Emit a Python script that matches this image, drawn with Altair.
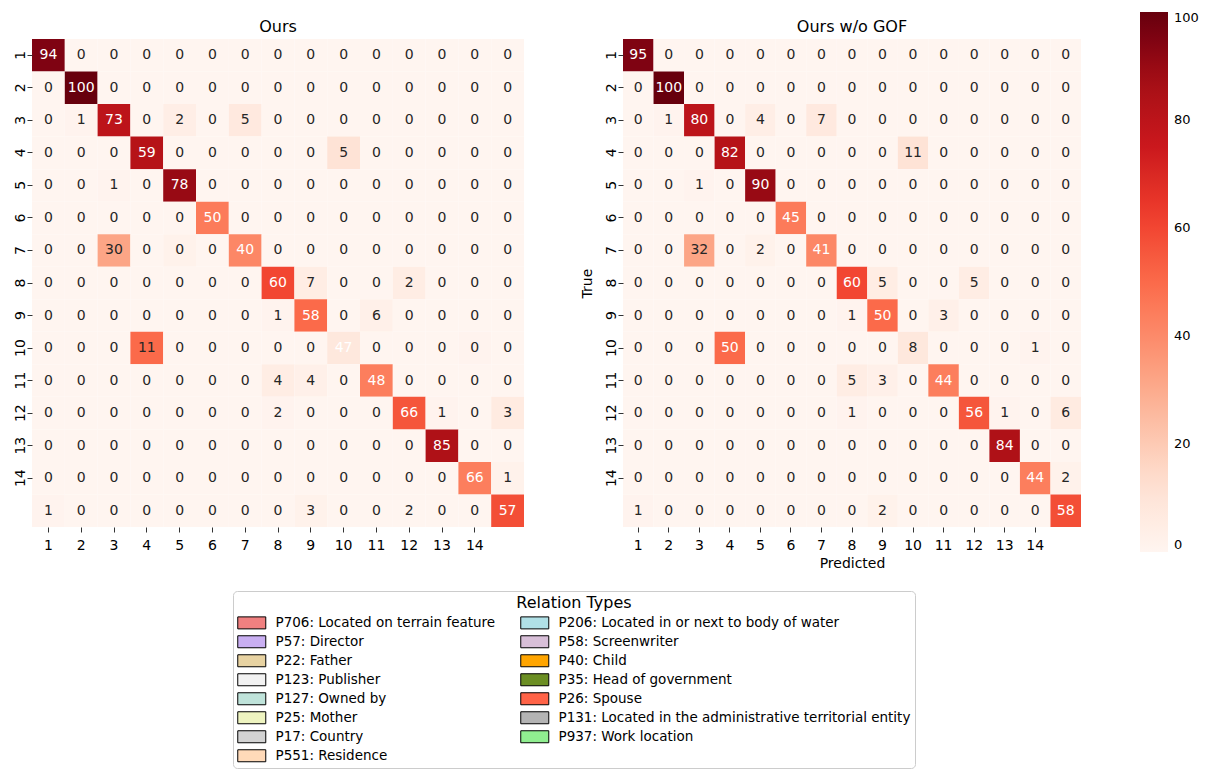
import altair as alt
import pandas as pd

FONT = "DejaVu Sans"

classes = list(range(1, 16))
tick_values = list(range(1, 15))

# Annotated numbers, left panel ("Ours")
ours_annot = [
    [94, 0, 0, 0, 0, 0, 0, 0, 0, 0, 0, 0, 0, 0, 0],
    [0, 100, 0, 0, 0, 0, 0, 0, 0, 0, 0, 0, 0, 0, 0],
    [0, 1, 73, 0, 2, 0, 5, 0, 0, 0, 0, 0, 0, 0, 0],
    [0, 0, 0, 59, 0, 0, 0, 0, 0, 5, 0, 0, 0, 0, 0],
    [0, 0, 1, 0, 78, 0, 0, 0, 0, 0, 0, 0, 0, 0, 0],
    [0, 0, 0, 0, 0, 50, 0, 0, 0, 0, 0, 0, 0, 0, 0],
    [0, 0, 30, 0, 0, 0, 40, 0, 0, 0, 0, 0, 0, 0, 0],
    [0, 0, 0, 0, 0, 0, 0, 60, 7, 0, 0, 2, 0, 0, 0],
    [0, 0, 0, 0, 0, 0, 0, 1, 58, 0, 6, 0, 0, 0, 0],
    [0, 0, 0, 11, 0, 0, 0, 0, 0, 47, 0, 0, 0, 0, 0],
    [0, 0, 0, 0, 0, 0, 0, 4, 4, 0, 48, 0, 0, 0, 0],
    [0, 0, 0, 0, 0, 0, 0, 2, 0, 0, 0, 66, 1, 0, 3],
    [0, 0, 0, 0, 0, 0, 0, 0, 0, 0, 0, 0, 85, 0, 0],
    [0, 0, 0, 0, 0, 0, 0, 0, 0, 0, 0, 0, 0, 66, 1],
    [1, 0, 0, 0, 0, 0, 0, 0, 3, 0, 0, 2, 0, 0, 57],
]

# Annotated numbers, right panel ("Ours w/o GOF")
wo_gof_annot = [
    [95, 0, 0, 0, 0, 0, 0, 0, 0, 0, 0, 0, 0, 0, 0],
    [0, 100, 0, 0, 0, 0, 0, 0, 0, 0, 0, 0, 0, 0, 0],
    [0, 1, 80, 0, 4, 0, 7, 0, 0, 0, 0, 0, 0, 0, 0],
    [0, 0, 0, 82, 0, 0, 0, 0, 0, 11, 0, 0, 0, 0, 0],
    [0, 0, 1, 0, 90, 0, 0, 0, 0, 0, 0, 0, 0, 0, 0],
    [0, 0, 0, 0, 0, 45, 0, 0, 0, 0, 0, 0, 0, 0, 0],
    [0, 0, 32, 0, 2, 0, 41, 0, 0, 0, 0, 0, 0, 0, 0],
    [0, 0, 0, 0, 0, 0, 0, 60, 5, 0, 0, 5, 0, 0, 0],
    [0, 0, 0, 0, 0, 0, 0, 1, 50, 0, 3, 0, 0, 0, 0],
    [0, 0, 0, 50, 0, 0, 0, 0, 0, 8, 0, 0, 0, 1, 0],
    [0, 0, 0, 0, 0, 0, 0, 5, 3, 0, 44, 0, 0, 0, 0],
    [0, 0, 0, 0, 0, 0, 0, 1, 0, 0, 0, 56, 1, 0, 6],
    [0, 0, 0, 0, 0, 0, 0, 0, 0, 0, 0, 0, 84, 0, 0],
    [0, 0, 0, 0, 0, 0, 0, 0, 0, 0, 0, 0, 0, 44, 2],
    [1, 0, 0, 0, 0, 0, 0, 0, 2, 0, 0, 0, 0, 0, 58],
]

# Cell shading as seen in the picture: the left panel's shading follows the
# right panel's matrix.
ours_shade = wo_gof_annot
wo_gof_shade = wo_gof_annot

# Colour ramp (matplotlib "Reds")
reds_stops = [0, 12.5, 25, 37.5, 50, 62.5, 75, 87.5, 100]
reds_colors = ["#fff5f0", "#fee0d2", "#fcbba1", "#fc9272", "#fb6a4a",
               "#ef3b2c", "#cb181d", "#a50f15", "#67000d"]

# Relation legend (two columns, filled column by column)
relation_types = [
    "P706: Located on terrain feature",
    "P57: Director",
    "P22: Father",
    "P123: Publisher",
    "P127: Owned by",
    "P25: Mother",
    "P17: Country",
    "P551: Residence",
    "P206: Located in or next to body of water",
    "P58: Screenwriter",
    "P40: Child",
    "P35: Head of government",
    "P26: Spouse",
    "P131: Located in the administrative territorial entity",
    "P937: Work location",
]
relation_colors = [
    "#F08080", "#C9AFF2", "#E8D3A2", "#F2F2F2", "#BFE3DA", "#EEF4C0", "#D3D3D3", "#FFDAB9",
    "#B0E0E6", "#D8BFD8", "#FFA500", "#6B8E23", "#FF6347", "#B4B4B4", "#90EE90",
]


def make_frame(annot, shade):
    rows = []
    for i, t in enumerate(classes):
        for j, p in enumerate(classes):
            rows.append({"true": t, "pred": p, "annot": annot[i][j], "shade": shade[i][j]})
    return pd.DataFrame(rows)


heat_legend = alt.Legend(
    orient="none", legendX=1108, legendY=-27, offset=0, direction="vertical",
    gradientLength=540, gradientThickness=28, gradientStrokeWidth=0,
    title=None, values=[0, 20, 40, 60, 80, 100],
    labelFontSize=13, labelFont=FONT, labelColor="black", labelOffset=6,
    padding=0,
)


def panel(df, title, width, show_titles):
    x_axis = dict(values=tick_values, labelAngle=0, labelPadding=6, titlePadding=4)
    y_axis = dict(values=tick_values, labelAngle=270, labelPadding=0, titlePadding=10)
    if show_titles:
        x_axis["title"] = "Predicted"
        y_axis["title"] = "True"
    else:
        x_axis["title"] = None
        y_axis["title"] = None
    x = alt.X("pred:O", scale=alt.Scale(domain=classes, paddingInner=0, paddingOuter=0),
              axis=alt.Axis(**x_axis))
    y = alt.Y("true:O", scale=alt.Scale(domain=classes, paddingInner=0, paddingOuter=0),
              axis=alt.Axis(**y_axis))
    base = alt.Chart(df)
    rect = base.mark_rect().encode(
        x=x, y=y,
        color=alt.Color("shade:Q", scale=alt.Scale(domain=reds_stops, range=reds_colors),
                        legend=heat_legend),
    )
    text = base.mark_text(font=FONT, fontSize=14).encode(
        x=x, y=y, text="annot:Q",
        color=alt.condition("datum.annot > 35", alt.value("white"), alt.value("#262626")),
    )
    return alt.layer(rect, text).properties(
        width=width, height=488,
        title=alt.TitleParams(title, font=FONT, fontSize=16, fontWeight="normal", color="black", offset=4),
    )


left = panel(make_frame(ours_annot, ours_shade), "Ours", 492, False)
right_heat = panel(make_frame(wo_gof_annot, wo_gof_shade), "Ours w/o GOF", 458, True)

rel_df = pd.DataFrame({"relation": relation_types})
rel_layer = alt.Chart(rel_df).mark_point(filled=True).encode(
    fill=alt.Fill(
        "relation:N",
        scale=alt.Scale(domain=relation_types, range=relation_colors),
        legend=alt.Legend(
            orient="none", legendX=201, legendY=552, offset=0, columns=2, columnPadding=22,
            rowPadding=2, title="Relation Types", titleFont=FONT, titleFontSize=16,
            titleFontWeight="normal", titleColor="black", titleAnchor="middle", titlePadding=5,
            labelFont=FONT, labelFontSize=13.5, labelColor="black", labelOffset=25, labelLimit=600,
            symbolType="M-1,-1H3.67V1H-1Z", symbolSize=144, symbolStrokeColor="black",
            symbolStrokeWidth=1, symbolOpacity=1,
            strokeColor="#cccccc", cornerRadius=4, padding=4, fillColor="white",
        ),
    ),
).transform_filter("false")

right = alt.layer(right_heat, rel_layer)

chart = alt.hconcat(left, right, spacing=56).properties(
    padding={"left": 5, "top": 4, "right": 0, "bottom": 0},
).configure_view(stroke=None).configure_axis(
    labelFont=FONT, labelFontSize=14, labelColor="black",
    titleFont=FONT, titleFontSize=14, titleFontWeight="normal", titleColor="black",
    tickColor="#333333", tickSize=5, tickWidth=1,
    domain=False, grid=False,
)

chart.save("out.html", embed_options={"renderer": "svg", "actions": False})
